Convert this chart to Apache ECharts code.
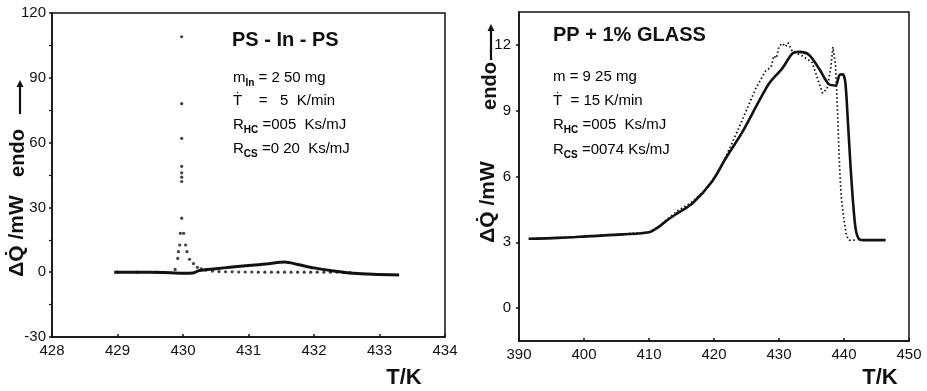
<!DOCTYPE html>
<html><head><meta charset="utf-8">
<script src="https://cdn.jsdelivr.net/npm/echarts@6/dist/echarts.min.js"></script>
<style>html,body{margin:0;padding:0;background:#fff}#c{width:927px;height:391px}</style>
</head><body><div id="c"></div>
<script>
// ---- Left panel: PS-In-PS ----
const psSolidT = [428.95,429.5,429.8,430.0,430.15,430.25,430.5,430.75,431.0,431.3,431.55,431.75,432.0,432.3,432.6,432.9,433.3];
const psSolidQ = [0,0,-0.2,-0.5,-0.4,0.8,1.6,2.4,3.1,3.9,4.7,3.6,2.0,0.6,-0.5,-1.0,-1.3];
const psDotT = [429.0,429.3,429.6,429.88,429.92,429.93,429.95,429.96,429.98,429.98,429.98,429.98,429.98,429.98,429.98,429.98,430.01,430.04,430.06,430.1,430.16,430.22,430.28,430.35,430.45,430.55,430.65,430.75,430.85,430.95,431.05,431.15,431.25,431.35,431.45,431.55,431.65,431.75,431.85,431.95,432.05,432.15,432.25,432.35,432.45,432.55,432.65];
const psDotQ = [0,0,0,1.3,6.4,9.5,12.6,18,25,42,44,46,49,62,78,109,18,12.6,9.5,6,4,2.3,1.5,1.0,0.5,0.3,0.2,0.2,0.1,0.1,0.1,0,0,0,0,0,0,0,0,0,0,0,0,0,-0.1,-0.2,-0.5];
const psXTicks = [428,429,430,431,432,433,434];
const psYTicks = [-30,0,30,60,90,120];
// ---- Right panel: PP + 1% GLASS ----
const ppSolidT = [391.5,396,401,406,410,411.5,413,414.5,416.7,419.7,421.8,424.4,426.9,428.5,430.5,432.05,433.1,434.6,436.2,437.7,438.7,439.3,439.8,440.2,440.6,441.0,441.4,441.8,442.3,443,446.4];
const ppSolidQ = [3.16,3.2,3.28,3.36,3.46,3.7,4.05,4.35,4.78,5.77,6.83,8.05,9.42,10.25,10.93,11.6,11.68,11.55,10.9,10.2,10.15,10.63,10.66,10.3,8.5,6.5,4.8,3.6,3.15,3.1,3.1];
const ppDotT = [391.5,401,410,411.5,413,414.5,416.7,418.5,420.8,423.8,426.4,427.9,428.8,429.2,429.6,430.0,430.5,431.0,431.4,432.05,433.6,435.1,436.0,436.7,437.4,437.95,438.3,438.7,439.0,439.3,439.6,440.0,440.4,440.8,441.8];
const ppDotQ = [3.16,3.28,3.46,3.72,4.1,4.45,4.85,5.35,6.23,8.2,10.0,10.8,11.0,11.5,11.4,11.92,12.07,11.92,12.1,11.7,11.5,11.2,10.4,9.8,10.0,10.93,11.9,11.1,9.0,6.5,5.0,4.0,3.3,3.1,3.1];
const ppXTicks = [390,400,410,420,430,440,450];
const ppYTicks = [0,3,6,9,12];

const zip = (a,b)=>a.map((v,i)=>[v,b[i]]);
const INK = '#111';
const labelFont = {color: INK, fontFamily: 'Liberation Sans', fontSize: 15};

function xAxis(gi, min, max, interval){
  return {type:'value', gridIndex: gi, min, max, interval,
    axisLine:{show:true, onZero:false, lineStyle:{color:INK, width:1.5}},
    axisTick:{show:true, inside:true, length:3, lineStyle:{color:INK, width:1.5}},
    axisLabel:Object.assign({margin:6}, labelFont),
    splitLine:{show:false}};
}
const chart = echarts.init(document.getElementById('c'), null, {renderer:'canvas'});

function txt(x, y, text, size, opts){
  return Object.assign({type:'text', x, y, style:Object.assign({text, fill:INK, font: (opts&&opts.bold?'bold ':'') + size + 'px "Liberation Sans", "DejaVu Sans"', verticalAlign:'middle', align:'left'}, opts&&opts.style||{})}, opts&&opts.el||{});
}
function rtxt(x, y, text){
  return {type:'text', x, y, style:{text, verticalAlign:'middle', align:'left',
    rich:{a:{fontSize:15, fontFamily:'Liberation Sans', color:INK, lineHeight:20, verticalAlign:'middle'},
          s:{fontSize:10, fontFamily:'Liberation Sans', fontWeight:'bold', color:INK, lineHeight:10, verticalAlign:'bottom'}}}};
}
function arrowUp(x, y0, y1){
  return [{type:'line', shape:{x1:x, y1:y0, x2:x, y2:y1+5}, style:{stroke:INK, lineWidth:2.2}},
          {type:'polygon', shape:{points:[[x-3.5,y1+7],[x+3.5,y1+7],[x,y1]]}, style:{fill:INK}}];
}
function axisName(x, y, text, size){
  return {type:'text', x, y, rotation: Math.PI/2, style:{text, fill:INK, font:'bold ' + (size||21) + 'px "Liberation Sans", "DejaVu Sans"', align:'center', verticalAlign:'middle'}};
}

chart.setOption({
  animation:false,
  backgroundColor:'#fff',
  grid:[
    {left:52, right:482, top:13, bottom:54, show:true, borderColor:INK, borderWidth:1.5, backgroundColor:'transparent'},
    {left:519, right:18, top:12, bottom:50, show:true, borderColor:INK, borderWidth:1.5, backgroundColor:'transparent'}
  ],
  xAxis:[ xAxis(0, psXTicks[0], psXTicks[psXTicks.length-1], 1), xAxis(1, ppXTicks[0], ppXTicks[ppXTicks.length-1], 10) ],
  yAxis:[
    {type:'value', gridIndex:0, min:psYTicks[0], max:psYTicks[psYTicks.length-1], interval:30,
      axisLine:{show:true, onZero:false, lineStyle:{color:INK, width:1.5}},
      axisTick:{show:true, length:3, lineStyle:{color:INK, width:1.5}},
      minorTick:{show:true, splitNumber:2, length:3, lineStyle:{color:INK, width:1.2}},
      axisLabel:Object.assign({margin:6}, labelFont), splitLine:{show:false}},
    {type:'value', gridIndex:1, min:-1.5, max:13.5,
      axisLine:{show:true, onZero:false, lineStyle:{color:INK, width:1.5}},
      axisTick:{show:true, length:3, customValues:ppYTicks, lineStyle:{color:INK, width:1.5}},
      axisLabel:Object.assign({margin:8, customValues:ppYTicks}, labelFont), splitLine:{show:false}}
  ],
  series:[
    {type:'line', xAxisIndex:0, yAxisIndex:0, data:zip(psSolidT, psSolidQ), showSymbol:false, smooth:0.3,
      lineStyle:{color:INK, width:3}, z:3},
    {type:'scatter', xAxisIndex:0, yAxisIndex:0, data:zip(psDotT, psDotQ), symbol:'circle', symbolSize:3.2,
      itemStyle:{color:INK}, z:4},
    {type:'line', xAxisIndex:1, yAxisIndex:1, data:zip(ppDotT, ppDotQ), showSymbol:false,
      lineStyle:{color:INK, width:1.8, type:[1.5,2.5]}, z:3},
    {type:'line', xAxisIndex:1, yAxisIndex:1, data:zip(ppSolidT, ppSolidQ), showSymbol:false, smooth:0.3,
      lineStyle:{color:INK, width:2.6}, z:4}
  ],
  graphic:[
    // left panel texts
    txt(232, 40, 'PS - In - PS', 20, {bold:true}),
    rtxt(233, 78, '{a|m}{s|In}{a| = 2 50 mg}'),
    rtxt(233, 101, '{a|Ṫ    =   5  K/min}'),
    rtxt(233, 125, '{a|R}{s|HC}{a| =005  Ks/mJ}'),
    rtxt(233, 149, '{a|R}{s|CS}{a| =0 20  Ks/mJ}'),
    axisName(17, 236, 'ΔQ̇ /mW', 21),
    axisName(18, 153, 'endo', 20),
    ...arrowUp(20, 114, 80),
    txt(404, 378, 'T/K', 22, {bold:true, style:{align:'center'}}),
    // right panel texts
    txt(553, 35, 'PP + 1% GLASS', 20, {bold:true}),
    rtxt(553, 77, '{a|m = 9 25 mg}'),
    rtxt(553, 101, '{a|Ṫ  = 15 K/min}'),
    rtxt(553, 125, '{a|R}{s|HC}{a| =005  Ks/mJ}'),
    rtxt(553, 150, '{a|R}{s|CS}{a| =0074 Ks/mJ}'),
    axisName(488, 202, 'ΔQ̇ /mW', 21),
    axisName(490, 86, 'endo', 20),
    ...arrowUp(491, 60, 24),
    txt(880, 378, 'T/K', 22, {bold:true, style:{align:'center'}})
  ]
});
</script></body></html>
